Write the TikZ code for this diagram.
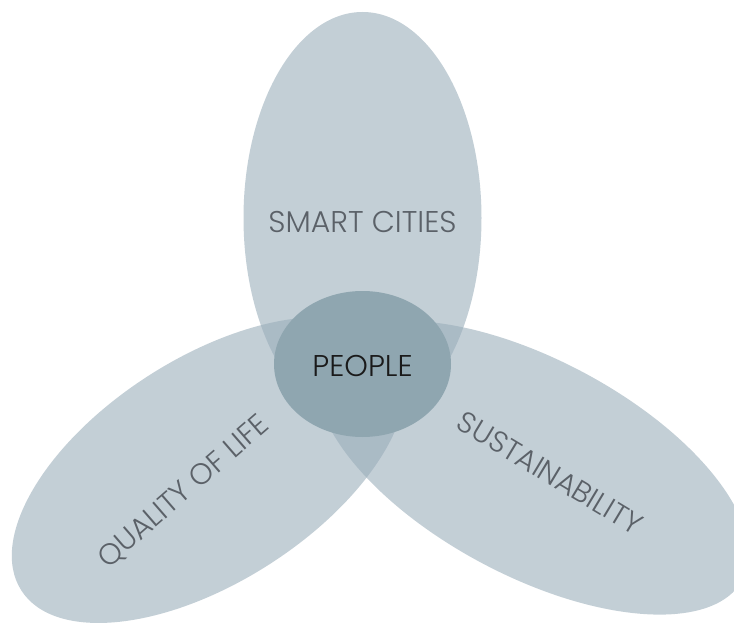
\documentclass[tikz,border=0pt]{standalone}
\usepackage{fontspec}
\IfFontExistsTF{Poppins Light}{\setmainfont{Poppins Light}}{\setmainfont{Poppins}}
\definecolor{petal}{HTML}{99ADBA}
\definecolor{core}{HTML}{8FA6B0}
\definecolor{labelgrey}{HTML}{5B6168}
\definecolor{coretext}{HTML}{1A1A1A}
\tikzset{
  petalfill/.style={fill=petal, fill opacity=0.58, draw=none},
  corefill/.style={fill=core, draw=none},
  petallabel/.style={text=labelgrey, font=\fontsize{30}{33}\selectfont, inner sep=0pt, anchor=center},
  slantlabel/.style={text=labelgrey, font=\fontsize{29.5}{32}\selectfont, inner sep=0pt, anchor=center},
  corelabel/.style={text=coretext, font=\fontsize{30}{33}\selectfont, inner sep=0pt, anchor=center}
}
\begin{document}
\begin{tikzpicture}[x=1pt, y=-1pt]
\useasboundingbox (0,0) rectangle (734,623);
\fill[white] (0,0) rectangle (734,623);
\begin{scope}
\clip (0,0) rectangle (734,623);
% petals
\fill[petalfill] (362.5,218) ellipse [x radius=119pt, y radius=206pt];
\fill[petalfill, rotate around={32.7:(209,470)}] (209,470) ellipse [x radius=223pt, y radius=112pt];
\fill[petalfill, rotate around={-28:(532.6,467.7)}] (532.6,467.7) ellipse [x radius=238pt, y radius=108pt];
% core
\fill[corefill] (362.5,364) ellipse [x radius=88.5pt, y radius=73pt];
\end{scope}
% labels
\node[petallabel] (smart) at (362.5,222) {SMART CITIES};
\node[corelabel] (people) at (362.5,366) {PEOPLE};
\node[slantlabel, rotate=41] (quality) at (184,492) {QUALITY OF LIFE};
\node[slantlabel, rotate=-31] (sustain) at (550,473) {SUSTAINABILITY};
\end{tikzpicture}
\end{document}
